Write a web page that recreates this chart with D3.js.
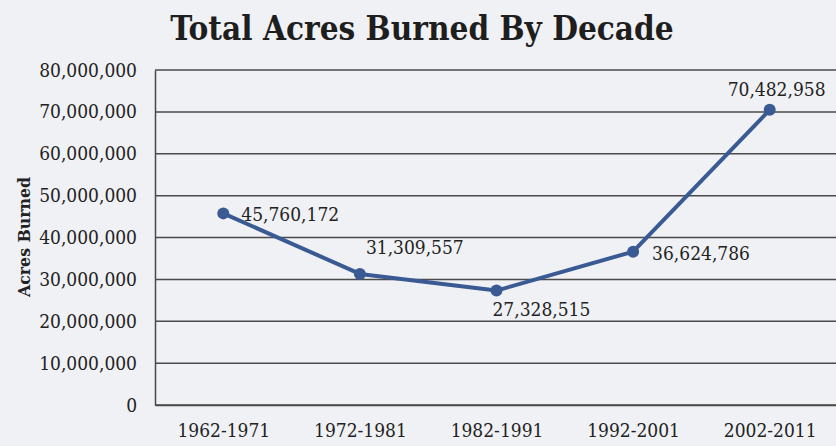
<!DOCTYPE html>
<html>
<head>
<meta charset="utf-8">
<script src="https://cdn.jsdelivr.net/npm/d3@7"></script>
<style>
  html, body { margin: 0; padding: 0; background: #f0f1f5; }
  svg { display: block; }
</style>
</head>
<body>
<svg id="chart" width="836" height="446"></svg>
<script>
// Total acres burned per decade
const decades = ["1962-1971", "1972-1981", "1982-1991", "1992-2001", "2002-2011"];
const acres = [45760172, 31309557, 27328515, 36624786, 70482958];
const yTicks = [0, 10000000, 20000000, 30000000, 40000000, 50000000, 60000000, 70000000, 80000000];

// Where each value label sits relative to its point
const labelOffsets = [
  { dx: 18, dy: 8 },
  { dx: 6, dy: -20 },
  { dx: -4, dy: 25 },
  { dx: 19, dy: 8 },
  { dx: -42, dy: -14 }
];

const svg = d3.select("#chart");
const W = 836, H = 446;
const m = { left: 155, right: -2, top: 70, bottom: 41 };

const x = d3.scalePoint().domain(decades).range([m.left, W - m.right]).padding(0.5);
const y = d3.scaleLinear().domain([0, 80000000]).range([H - m.bottom, m.top]);

const serif = "'DejaVu Serif Condensed', 'DejaVu Serif', serif";
const fmt = d3.format(",");
const labelSize = "19px";

// Title
svg.append("text")
  .attr("x", 422).attr("y", 40)
  .attr("text-anchor", "middle")
  .style("font-family", serif)
  .style("font-weight", "bold")
  .style("font-size", "33px")
  .style("fill", "#1e1e1e")
  .text("Total Acres Burned By Decade");

// Horizontal grid lines
svg.append("g")
  .selectAll("line")
  .data(yTicks)
  .join("line")
  .attr("x1", m.left).attr("x2", W)
  .attr("y1", d => y(d)).attr("y2", d => y(d))
  .attr("stroke", "#4a4a4a")
  .attr("stroke-width", 1.5);

// Y axis
const yAxis = svg.append("g")
  .attr("transform", `translate(${m.left},0)`)
  .call(d3.axisLeft(y).tickValues(yTicks).tickFormat(fmt).tickSize(0).tickPadding(18));
yAxis.select(".domain").attr("stroke", "#4a4a4a").attr("stroke-width", 1.5);
yAxis.selectAll("text")
  .style("font-family", serif)
  .style("font-size", labelSize)
  .style("fill", "#222");

// X axis labels
const xAxis = svg.append("g")
  .attr("transform", `translate(0,${H - m.bottom})`)
  .call(d3.axisBottom(x).tickSize(0).tickPadding(19));
xAxis.select(".domain").attr("stroke", "#4a4a4a").attr("stroke-width", 1.5);
xAxis.selectAll("text")
  .style("font-family", serif)
  .style("font-size", labelSize)
  .style("fill", "#222");

// Y axis title
svg.append("text")
  .attr("transform", `translate(30,237) rotate(-90)`)
  .attr("text-anchor", "middle")
  .style("font-family", serif)
  .style("font-weight", "bold")
  .style("font-size", "17.5px")
  .style("fill", "#222")
  .text("Acres Burned");

// Series line
const points = decades.map((d, i) => ({ decade: d, value: acres[i], off: labelOffsets[i] }));
svg.append("path")
  .datum(points)
  .attr("fill", "none")
  .attr("stroke", "#3a5a93")
  .attr("stroke-width", 4)
  .attr("stroke-linejoin", "round")
  .attr("d", d3.line().x(d => x(d.decade)).y(d => y(d.value)));

// Markers
svg.append("g")
  .selectAll("circle")
  .data(points)
  .join("circle")
  .attr("cx", d => x(d.decade))
  .attr("cy", d => y(d.value))
  .attr("r", 6)
  .attr("fill", "#3a5a93");

// Value labels
svg.append("g")
  .selectAll("text")
  .data(points)
  .join("text")
  .attr("x", d => x(d.decade) + d.off.dx)
  .attr("y", d => y(d.value) + d.off.dy)
  .style("font-family", serif)
  .style("font-size", labelSize)
  .style("fill", "#222")
  .text(d => fmt(d.value));
</script>
</body>
</html>
